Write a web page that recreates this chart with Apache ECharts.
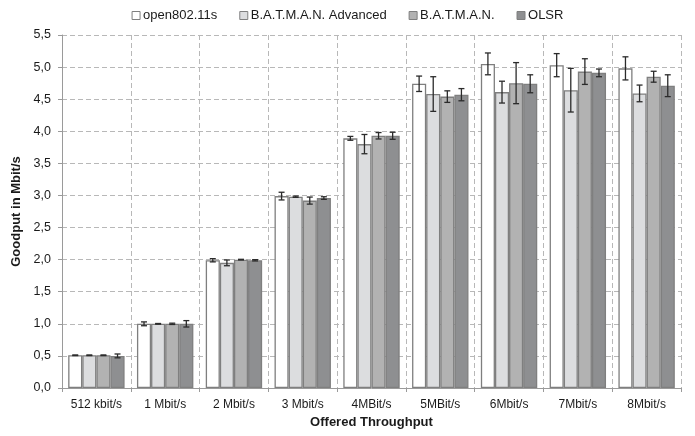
<!DOCTYPE html>
<html>
<head>
<meta charset="utf-8">
<script src="https://cdn.jsdelivr.net/npm/echarts@6/dist/echarts.min.js"></script>
<style>
  html, body { margin: 0; padding: 0; background: #fff; }
  #chart { width: 695px; height: 436px; }
</style>
</head>
<body>
<div id="chart"></div>
<script>
// Offered load per run
const categories = ['512 kbit/s', '1 Mbit/s', '2 Mbit/s', '3 Mbit/s', '4MBit/s', '5MBit/s', '6Mbit/s', '7Mbit/s', '8Mbit/s'];

// Mean goodput (Mbit/s) and half-width of the error bar for each protocol
const openMean   = [0.51, 1.00, 1.99, 2.99, 3.89, 4.74, 5.05, 5.03, 4.98];
const openErr    = [0.005, 0.03, 0.025, 0.06, 0.03, 0.12, 0.17, 0.18, 0.18];
const advMean    = [0.51, 1.00, 1.95, 2.98, 3.80, 4.58, 4.61, 4.64, 4.59];
const advErr     = [0.005, 0.005, 0.045, 0.01, 0.15, 0.27, 0.17, 0.34, 0.13];
const batmanMean = [0.51, 1.00, 2.00, 2.92, 3.93, 4.54, 4.75, 4.93, 4.85];
const batmanErr  = [0.005, 0.01, 0.005, 0.055, 0.05, 0.09, 0.32, 0.20, 0.085];
const olsrMean   = [0.50, 1.00, 1.99, 2.96, 3.93, 4.57, 4.74, 4.91, 4.71];
const olsrErr    = [0.03, 0.05, 0.01, 0.02, 0.055, 0.095, 0.14, 0.06, 0.17];

const seriesNames = ['open802.11s', 'B.A.T.M.A.N. Advanced', 'B.A.T.M.A.N.', 'OLSR'];
const yTicks = { min: 0, max: 5.5, interval: 0.5 };

const means = [openMean, advMean, batmanMean, olsrMean];
const errs = [openErr, advErr, batmanErr, olsrErr];
const fills = ['#ffffff', '#dcdddf', '#b2b2b2', '#8e8f91'];
const CAT_GAP = 0.18;

const errData = [];
means.forEach((arr, s) => {
  arr.forEach((v, c) => errData.push([c, s, v, errs[s][c]]));
});

const FONT = '"Liberation Sans", Arial, sans-serif';

const barSeries = seriesNames.map((name, s) => ({
  name: name,
  type: 'bar',
  data: means[s],
  barGap: '0%',
  barCategoryGap: (CAT_GAP * 100) + '%',
  itemStyle: { color: fills[s], borderColor: '#7f7f7f', borderWidth: 1.3 },
  emphasis: { disabled: true },
  z: 2
}));

// Error bars drawn on top of each bar, offset to the bar's slot in its category
const errorSeries = {
  type: 'custom',
  name: 'err',
  z: 5,
  silent: true,
  data: errData,
  renderItem: function (params, api) {
    const c = api.value(0), s = api.value(1), v = api.value(2), e = api.value(3);
    const cw = api.size([1, 0])[0];
    const bw = cw * (1 - CAT_GAP) / 4;
    const off = -2 * bw + bw * (s + 0.5);
    const top = api.coord([c, v + e]);
    const bot = api.coord([c, v - e]);
    const x = top[0] + off;
    const cap = 3;
    const style = { stroke: '#2b2b2b', lineWidth: 1.3, fill: null };
    return {
      type: 'group',
      children: [
        { type: 'line', shape: { x1: x, y1: top[1], x2: x, y2: bot[1] }, style: style },
        { type: 'line', shape: { x1: x - cap, y1: top[1], x2: x + cap, y2: top[1] }, style: style },
        { type: 'line', shape: { x1: x - cap, y1: bot[1], x2: x + cap, y2: bot[1] }, style: style }
      ]
    };
  }
};

const chart = echarts.init(document.getElementById('chart'), null, { renderer: 'canvas' });
chart.setOption({
  animation: false,
  backgroundColor: '#ffffff',
  textStyle: { fontFamily: FONT },
  legend: {
    data: seriesNames,
    top: 4,
    left: 'center',
    icon: 'rect',
    itemWidth: 8,
    itemHeight: 8,
    itemGap: 22,
    itemStyle: { borderColor: '#7f7f7f', borderWidth: 1 },
    textStyle: { fontFamily: FONT, fontSize: 13, color: '#1a1a1a', padding: [0, 0, 0, -2] }
  },
  grid: { left: 62, right: 14, top: 35, bottom: 48, containLabel: false },
  xAxis: {
    type: 'category',
    data: categories,
    name: 'Offered Throughput',
    nameLocation: 'middle',
    nameGap: 28,
    nameTextStyle: { fontFamily: FONT, fontSize: 13, fontWeight: 'bold', color: '#1a1a1a' },
    axisLine: { lineStyle: { color: '#9a9a9a', width: 1 } },
    axisTick: { show: true, length: 4, lineStyle: { color: '#9a9a9a' } },
    axisLabel: { fontFamily: FONT, fontSize: 12, color: '#1a1a1a', margin: 11 },
    splitLine: { show: true, lineStyle: { color: '#b8b8b8', type: [5, 3], width: 1 } }
  },
  yAxis: {
    type: 'value',
    min: yTicks.min,
    max: yTicks.max,
    interval: yTicks.interval,
    name: 'Goodput in Mbit/s',
    nameLocation: 'middle',
    nameGap: 38,
    nameTextStyle: { fontFamily: FONT, fontSize: 13, fontWeight: 'bold', color: '#1a1a1a' },
    axisLine: { show: true, lineStyle: { color: '#9a9a9a', width: 1 } },
    axisTick: { show: true, length: 4, lineStyle: { color: '#9a9a9a' } },
    axisLabel: {
      fontFamily: FONT, fontSize: 12.5, color: '#1a1a1a', margin: 11,
      formatter: v => v.toFixed(1).replace('.', ',')
    },
    splitLine: { show: true, lineStyle: { color: '#b8b8b8', type: [5, 3], width: 1 } }
  },
  series: barSeries.concat([errorSeries])
});
</script>
</body>
</html>
